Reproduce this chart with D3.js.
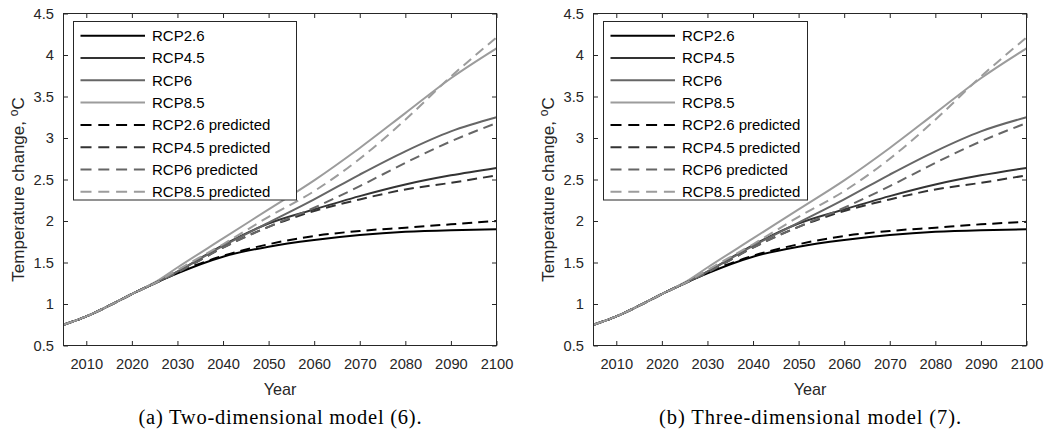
<!DOCTYPE html>
<html>
<head>
<meta charset="utf-8">
<script src="https://cdn.jsdelivr.net/npm/d3@7"></script>
<style>
  body { margin: 0; background: #fff; }
  svg { display: block; }
  .tick text { font-family: "Liberation Sans", Arial, Helvetica, sans-serif; font-size: 14.7px; fill: #262626; }
  .tick line { stroke: #262626; }
</style>
</head>
<body>
<div id="chart"></div>
<script>
// years
const years = [2005, 2010, 2015, 2020, 2025, 2030, 2040, 2050, 2060, 2070, 2080, 2090, 2100];

// observed RCP scenarios (same in both panels)
const rcp26 = [0.75, 0.85, 0.98, 1.12, 1.25, 1.37, 1.57, 1.69, 1.77, 1.83, 1.87, 1.89, 1.90];
const rcp45 = [0.75, 0.85, 0.98, 1.12, 1.25, 1.39, 1.71, 1.97, 2.14, 2.30, 2.44, 2.55, 2.64];
const rcp6  = [0.75, 0.85, 0.98, 1.12, 1.25, 1.39, 1.70, 1.98, 2.26, 2.56, 2.84, 3.08, 3.25];
const rcp85 = [0.75, 0.85, 0.98, 1.12, 1.26, 1.44, 1.79, 2.14, 2.49, 2.88, 3.30, 3.72, 4.08];

// model predictions (a) two-dimensional, (b) three-dimensional
const pred2d26 = [0.75, 0.85, 0.98, 1.12, 1.25, 1.38, 1.58, 1.72, 1.82, 1.88, 1.92, 1.96, 2.00];
const pred2d45 = [0.75, 0.85, 0.98, 1.12, 1.25, 1.38, 1.68, 1.93, 2.12, 2.26, 2.38, 2.46, 2.55];
const pred2d6  = [0.75, 0.85, 0.98, 1.12, 1.25, 1.38, 1.68, 1.93, 2.16, 2.42, 2.70, 2.96, 3.18];
const pred2d85 = [0.75, 0.85, 0.98, 1.12, 1.25, 1.41, 1.72, 2.05, 2.36, 2.75, 3.22, 3.74, 4.21];

const pred3d26 = [0.75, 0.85, 0.98, 1.12, 1.25, 1.38, 1.58, 1.72, 1.82, 1.88, 1.92, 1.96, 1.99];
const pred3d45 = [0.75, 0.85, 0.98, 1.12, 1.25, 1.38, 1.68, 1.93, 2.12, 2.26, 2.38, 2.46, 2.55];
const pred3d6  = [0.75, 0.85, 0.98, 1.12, 1.25, 1.38, 1.68, 1.93, 2.16, 2.42, 2.70, 2.96, 3.18];
const pred3d85 = [0.75, 0.85, 0.98, 1.12, 1.25, 1.41, 1.72, 2.05, 2.36, 2.75, 3.22, 3.74, 4.21];

const labels = ["RCP2.6", "RCP4.5", "RCP6", "RCP8.5",
                "RCP2.6 predicted", "RCP4.5 predicted", "RCP6 predicted", "RCP8.5 predicted"];
const captions = ["(a) Two-dimensional model (6).", "(b) Three-dimensional model (7)."];

const xTicks = [2010, 2020, 2030, 2040, 2050, 2060, 2070, 2080, 2090, 2100];
const yTicks = [0.5, 1, 1.5, 2, 2.5, 3, 3.5, 4, 4.5];

const greys = ["#000000", "#333333", "#666666", "#9c9c9c"];

const W = 1048, H = 430;
const svg = d3.select("#chart").append("svg")
    .attr("width", W)
    .attr("height", H);

const panels = [
    {left: 63.5, right: 496.5, legend: {x: 73.5, w: 223}, caption: captions[0], capWidth: 283,
     series: [rcp26, rcp45, rcp6, rcp85, pred2d26, pred2d45, pred2d6, pred2d85]},
    {left: 593.5, right: 1026.5, legend: {x: 603.5, w: 204}, caption: captions[1], capWidth: 302,
     series: [rcp26, rcp45, rcp6, rcp85, pred3d26, pred3d45, pred3d6, pred3d85]}
];

const plotTop = 13.5, plotBottom = 345.5;
const font = '"Liberation Sans", Arial, Helvetica, sans-serif';

panels.forEach(p => {
    const g = svg.append("g");

    const x = d3.scaleLinear().domain([2005, 2100]).range([p.left, p.right]);
    const y = d3.scaleLinear().domain([0.5, 4.5]).range([plotBottom, plotTop]);

    // lines
    const line = d3.line()
        .x(d => x(d[0]))
        .y(d => y(d[1]))
        .curve(d3.curveMonotoneX);

    const lines = p.series.map((vals, i) => ({
        label: labels[i],
        color: greys[i % 4],
        dashed: i >= 4,
        points: years.map((yr, j) => [yr, vals[j]])
    }));

    g.append("g")
        .selectAll("path")
        .data(lines)
        .join("path")
        .attr("d", d => line(d.points))
        .attr("fill", "none")
        .attr("stroke", d => d.color)
        .attr("stroke-width", 2)
        .attr("stroke-dasharray", d => d.dashed ? "10,6" : null);

    // axes, ticks pointing inwards like matlab
    g.append("g")
        .attr("transform", `translate(0,${plotBottom})`)
        .call(d3.axisBottom(x).tickValues(xTicks).tickFormat(d3.format("d")).tickSizeInner(-4.5).tickSizeOuter(0).tickPadding(13))
        .call(a => a.select(".domain").remove());
    g.append("g")
        .attr("transform", `translate(0,${plotTop})`)
        .call(d3.axisTop(x).tickValues(xTicks).tickFormat("").tickSizeInner(-4.5).tickSizeOuter(0))
        .call(a => a.select(".domain").remove());
    g.append("g")
        .attr("transform", `translate(${p.left},0)`)
        .call(d3.axisLeft(y).tickValues(yTicks).tickFormat(d => String(d)).tickSizeInner(-4.5).tickSizeOuter(0).tickPadding(9.5))
        .call(a => a.select(".domain").remove());
    g.append("g")
        .attr("transform", `translate(${p.right},0)`)
        .call(d3.axisRight(y).tickValues(yTicks).tickFormat("").tickSizeInner(-4.5).tickSizeOuter(0))
        .call(a => a.select(".domain").remove());

    g.append("rect")
        .attr("x", p.left).attr("y", plotTop)
        .attr("width", p.right - p.left).attr("height", plotBottom - plotTop)
        .attr("fill", "none").attr("stroke", "#262626").attr("stroke-width", 1);

    // axis titles
    g.append("text")
        .attr("x", (p.left + p.right) / 2)
        .attr("y", 395)
        .attr("text-anchor", "middle")
        .attr("font-family", font).attr("font-size", 16.2).attr("fill", "#262626")
        .text("Year");

    const yl = g.append("text")
        .attr("transform", `translate(${p.left - 40},${(plotTop + plotBottom) / 2 + 10}) rotate(-90)`)
        .attr("text-anchor", "middle")
        .attr("font-family", font).attr("font-size", 17).attr("fill", "#262626");
    yl.append("tspan").text("Temperature change, ");
    yl.append("tspan").attr("dy", -6).attr("font-size", 12).text("o");
    yl.append("tspan").attr("dy", 6).text("C");

    // legend
    const lg = g.append("g");
    lg.append("rect")
        .attr("x", p.legend.x).attr("y", 21.5)
        .attr("width", p.legend.w).attr("height", 178.5)
        .attr("fill", "#fff").attr("stroke", "#262626").attr("stroke-width", 1);

    const row = lg.selectAll("g.row")
        .data(lines)
        .join("g")
        .attr("class", "row")
        .attr("transform", (d, i) => `translate(${p.legend.x},${35.7 + i * 22.3})`);
    row.append("line")
        .attr("x1", 7).attr("x2", 71.5)
        .attr("stroke", d => d.color)
        .attr("stroke-width", 2)
        .attr("stroke-dasharray", d => d.dashed ? "11,6.8" : null);
    row.append("text")
        .attr("x", 78.5).attr("dy", "0.36em")
        .attr("font-family", font).attr("font-size", 15).attr("fill", "#000")
        .text(d => d.label);

    // caption under each panel, stretched to the width of the latex caption
    g.append("text")
        .attr("x", (p.left + p.right) / 2)
        .attr("y", 424)
        .attr("text-anchor", "middle")
        .attr("font-family", '"Liberation Serif", "Times New Roman", serif')
        .attr("font-size", 20.5).attr("fill", "#000")
        .attr("textLength", p.capWidth)
        .attr("lengthAdjust", "spacing")
        .text(p.caption);
});
</script>
</body>
</html>
